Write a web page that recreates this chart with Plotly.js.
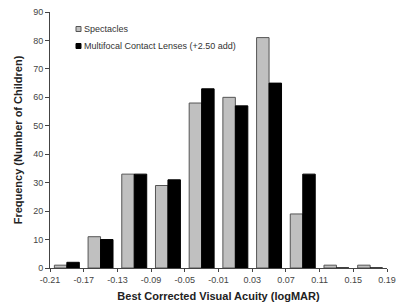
<!DOCTYPE html>
<html><head><meta charset="utf-8">
<script src="https://cdn.plot.ly/plotly-3.0.1.min.js"></script>
<style>html,body{margin:0;padding:0;background:#fff}#c{width:396px;height:308px}</style>
</head><body><div id="c"></div>
<script>
const binCenters = [-0.19, -0.15, -0.11, -0.07, -0.03, 0.01, 0.05, 0.09, 0.13, 0.17];
const spectacles = [1, 11, 33, 29, 58, 60, 81, 19, 1, 1];
const contacts = [2, 10, 33, 31, 63, 57, 65, 33, 0, 0];
const seriesNames = ['Spectacles', 'Multifocal Contact Lenses (+2.50 add)'];
const tickVals = [-0.21, -0.17, -0.13, -0.09, -0.05, -0.01, 0.03, 0.07, 0.11, 0.15, 0.19];
const tickText = ['-0.21','-0.17','-0.13','-0.09','-0.05','-0.01','0.03','0.07','0.11','0.15','0.19'];
const font = 'Liberation Sans, Arial, sans-serif';
const fills = ['#c0c0c0', '#000'];
const lines = ['#555', '#000'];
const data = [
  {type:'bar', name:seriesNames[0], x:binCenters, y:spectacles, showlegend:false,
   marker:{color:fills[0], line:{color:lines[0], width:1}}},
  {type:'bar', name:seriesNames[1], x:binCenters, y:contacts, showlegend:false,
   marker:{color:fills[1], line:{color:lines[1], width:1}}}
];
// legend drawn as shapes + annotations (pixel offsets from plot area)
const W = 396, H = 308, L = 50, R = 9, T = 12, B = 40;
const pw = W - L - R, ph = H - T - B;
const px = v => (v - L) / pw;
const py = v => (H - B - v) / ph;
const shapes = [], annotations = [];
const legY = [29, 46];
seriesNames.forEach((n, i) => {
  shapes.push({type:'rect', xref:'paper', yref:'paper',
    x0:px(76), x1:px(81), y0:py(legY[i]+2.5), y1:py(legY[i]-2.5),
    fillcolor:fills[i], line:{color:lines[i], width:1}});
  annotations.push({xref:'paper', yref:'paper', x:px(82), y:py(legY[i]),
    xanchor:'left', yanchor:'middle', text:n, showarrow:false,
    font:{size:9, color:'#333'}});
});
const layout = {
  width:W, height:H,
  margin:{l:L, r:R, t:T, b:B},
  paper_bgcolor:'#fff', plot_bgcolor:'#fff',
  barmode:'group', bargap:0.26, bargroupgap:0,
  font:{family:font, size:9, color:'#444'},
  showlegend:false,
  shapes:shapes, annotations:annotations,
  xaxis:{range:[-0.21, 0.19], tickvals:tickVals, ticktext:tickText,
         showgrid:false, zeroline:false, showline:true, linecolor:'#444', linewidth:1,
         ticks:'outside', ticklen:3, tickcolor:'#444',
         tickfont:{size:9, color:'#444'},
         title:{text:'<b>Best Corrected Visual Acuity (logMAR)</b>', font:{size:11, color:'#222'}, standoff:8}},
  xaxis2:{range:[-0.21, 0.19], tickvals:tickVals, overlaying:'x', anchor:'y', side:'bottom',
          showgrid:false, zeroline:false, showline:false, ticks:'inside', ticklen:3,
          tickcolor:'#444', showticklabels:false},
  yaxis:{range:[0, 90], dtick:10, showgrid:false, zeroline:false, showline:true,
         linecolor:'#444', linewidth:1, ticks:'outside', ticklen:4, tickcolor:'#444',
         tickfont:{size:9, color:'#444'},
         title:{text:'<b>Frequency (Number of Children)</b>', font:{size:11, color:'#222'}, standoff:8}}
};
Plotly.newPlot('c', data, layout, {staticPlot:true, displayModeBar:false});
</script></body></html>
